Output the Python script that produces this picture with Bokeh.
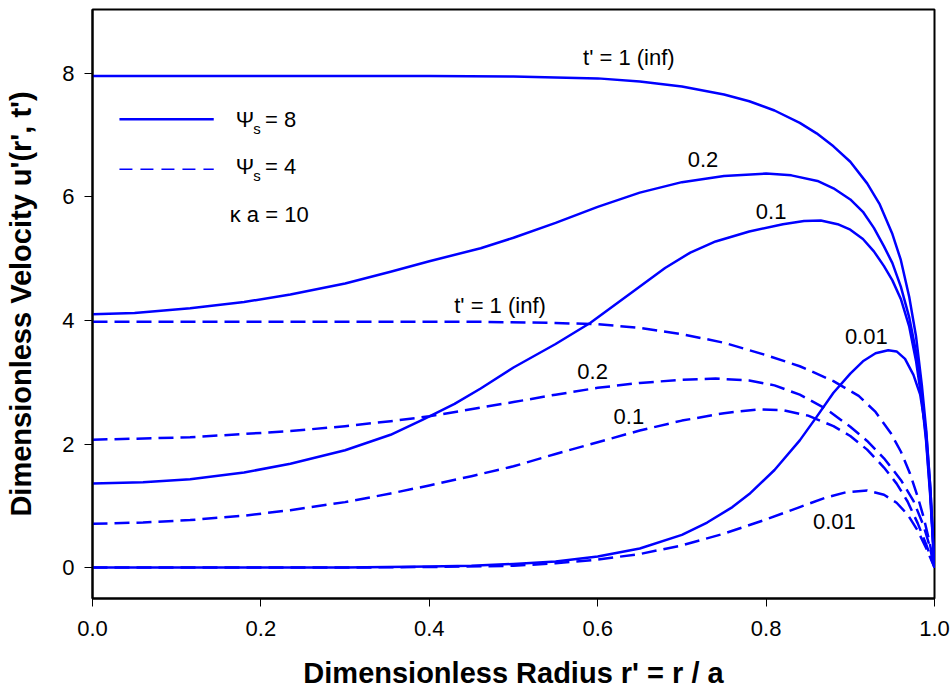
from bokeh.plotting import figure
from bokeh.models import Range1d, FixedTicker
from bokeh.core.properties import value
from bokeh.embed import file_html
from bokeh.resources import INLINE

# Velocity profiles u'(r', t') for kappa*a = 10
# Psi_s = 8 (solid)
s8_inf_x = [0, 0.1, 0.2, 0.3, 0.4, 0.5, 0.6, 0.65, 0.7, 0.75, 0.78, 0.81, 0.84, 0.86, 0.88, 0.9,
            0.92, 0.935, 0.95, 0.96, 0.97, 0.978, 0.985, 0.99, 0.995, 1.0]
s8_inf_y = [7.96, 7.96, 7.96, 7.96, 7.96, 7.95, 7.92, 7.87, 7.79, 7.66, 7.55, 7.40, 7.20, 7.03, 6.82, 6.57,
            6.22, 5.88, 5.40, 4.98, 4.38, 3.75, 2.95, 2.25, 1.3, 0.0]

s8_02_x = [0, 0.05, 0.116, 0.18, 0.235, 0.3, 0.354, 0.4, 0.461, 0.5, 0.55, 0.6, 0.65, 0.7, 0.75, 0.8,
           0.83, 0.861, 0.88, 0.9, 0.915, 0.928, 0.94, 0.95, 0.96, 0.97, 0.978, 0.985, 0.99, 0.995, 1.0]
s8_02_y = [4.10, 4.12, 4.20, 4.30, 4.42, 4.60, 4.79, 4.96, 5.17, 5.34, 5.58, 5.84, 6.07, 6.24, 6.34, 6.38,
           6.35, 6.26, 6.14, 5.96, 5.76, 5.50, 5.20, 4.93, 4.55, 4.05, 3.5, 2.75, 2.1, 1.2, 0.0]

s8_01_x = [0, 0.06, 0.116, 0.18, 0.235, 0.3, 0.354, 0.393, 0.43, 0.461, 0.5, 0.55, 0.591, 0.64, 0.68,
           0.71, 0.74, 0.78, 0.82, 0.845, 0.865, 0.885, 0.9, 0.915, 0.928, 0.94, 0.95, 0.96, 0.97,
           0.978, 0.985, 0.99, 0.995, 1.0]
s8_01_y = [1.36, 1.38, 1.43, 1.54, 1.68, 1.90, 2.15, 2.40, 2.65, 2.90, 3.24, 3.62, 3.96, 4.45, 4.85,
           5.10, 5.28, 5.44, 5.56, 5.61, 5.62, 5.56, 5.47, 5.32, 5.12, 4.88, 4.65, 4.35, 3.9,
           3.35, 2.7, 2.05, 1.15, 0.0]

s8_001_x = [0, 0.3, 0.4, 0.45, 0.5, 0.55, 0.6, 0.65, 0.7, 0.73, 0.76, 0.78, 0.81, 0.84, 0.86, 0.88, 0.9,
            0.915, 0.93, 0.945, 0.955, 0.965, 0.975, 0.983, 0.99, 0.995, 1.0]
s8_001_y = [0.0, 0.0, 0.02, 0.03, 0.06, 0.10, 0.18, 0.31, 0.53, 0.73, 0.98, 1.19, 1.58, 2.06, 2.44, 2.83, 3.14,
            3.34, 3.47, 3.52, 3.50, 3.38, 3.12, 2.8, 2.2, 1.3, 0.0]

# Psi_s = 4 (dashed)
s4_inf_x = [0, 0.3, 0.461, 0.55, 0.6, 0.65, 0.7, 0.75, 0.8, 0.84, 0.88, 0.91, 0.93, 0.948, 0.96,
            0.971, 0.98, 0.987, 0.994, 1.0]
s4_inf_y = [3.98, 3.98, 3.98, 3.96, 3.94, 3.88, 3.78, 3.64, 3.44, 3.26, 3.02, 2.78, 2.52, 2.18, 1.88,
            1.52, 1.15, 0.82, 0.42, 0.0]

s4_02_x = [0, 0.116, 0.235, 0.3, 0.354, 0.4, 0.461, 0.5, 0.55, 0.6, 0.65, 0.7, 0.74, 0.78, 0.81, 0.84,
           0.87, 0.9, 0.92, 0.94, 0.96, 0.975, 0.987, 0.994, 1.0]
s4_02_y = [2.07, 2.11, 2.21, 2.29, 2.37, 2.45, 2.59, 2.68, 2.80, 2.91, 2.99, 3.04, 3.06, 3.03, 2.95, 2.80,
           2.58, 2.28, 2.05, 1.77, 1.42, 1.08, 0.68, 0.36, 0.0]

s4_01_x = [0, 0.06, 0.116, 0.18, 0.235, 0.3, 0.354, 0.4, 0.45, 0.5, 0.55, 0.6, 0.65, 0.7, 0.75, 0.79,
           0.82, 0.85, 0.88, 0.9, 0.92, 0.94, 0.955, 0.968, 0.98, 0.99, 1.0]
s4_01_y = [0.71, 0.73, 0.77, 0.84, 0.93, 1.06, 1.20, 1.33, 1.48, 1.64, 1.84, 2.03, 2.22, 2.38, 2.50, 2.56,
           2.55, 2.46, 2.29, 2.13, 1.91, 1.62, 1.36, 1.07, 0.72, 0.38, 0.0]

s4_001_x = [0, 0.3, 0.4, 0.5, 0.55, 0.6, 0.65, 0.7, 0.75, 0.8, 0.84, 0.87, 0.895, 0.92, 0.94, 0.955,
            0.968, 0.98, 0.99, 1.0]
s4_001_y = [0.0, 0.0, 0.01, 0.03, 0.07, 0.13, 0.22, 0.36, 0.55, 0.78, 0.98, 1.13, 1.22, 1.25, 1.18, 1.05,
            0.86, 0.6, 0.32, 0.0]

x_ticks = [0.0, 0.2, 0.4, 0.6, 0.8, 1.0]
x_tick_labels = ["0.0", "0.2", "0.4", "0.6", "0.8", "1.0"]
y_ticks = [0, 2, 4, 6, 8]
y_tick_labels = ["0", "2", "4", "6", "8"]

FONT = "Liberation Sans"
BLUE = "#0000FF"

p = figure(width=952, height=698, output_backend="svg", toolbar_location=None,
           x_range=Range1d(0, 1.0), y_range=Range1d(-0.5, 9.035),
           min_border_left=92, min_border_right=18, min_border_top=9, min_border_bottom=100)
p.background_fill_color = "white"
p.border_fill_color = "white"
p.grid.visible = False
p.outline_line_color = "black"
p.outline_line_width = 2

for ax in (p.xaxis[0], p.yaxis[0]):
    ax.axis_line_width = 2
    ax.axis_line_color = "black"
    ax.major_tick_out = 8
    ax.major_tick_in = 0
    ax.major_tick_line_color = "black"
    ax.major_tick_line_width = 1
    ax.minor_tick_line_color = None
    ax.major_label_text_font = FONT
    ax.major_label_text_font_size = "22px"
    ax.major_label_text_color = "black"
    ax.axis_label_text_font = FONT
    ax.axis_label_text_font_size = "29px"
    ax.axis_label_text_font_style = "bold"
    ax.axis_label_text_color = "black"

p.xaxis.ticker = FixedTicker(ticks=x_ticks)
p.xaxis.major_label_overrides = dict(zip(x_ticks, x_tick_labels))
p.yaxis.ticker = FixedTicker(ticks=y_ticks)
p.yaxis.major_label_overrides = dict(zip(y_ticks, y_tick_labels))
p.xaxis.axis_label = "Dimensionless Radius r' = r / a"
p.yaxis.axis_label = "Dimensionless Velocity u'(r', t')"
p.xaxis.major_label_standoff = 14
p.xaxis.axis_label_standoff = 18
p.yaxis.major_label_standoff = 10
p.yaxis.axis_label_standoff = 22

# curves
for xs, ys in [(s8_inf_x, s8_inf_y), (s8_02_x, s8_02_y), (s8_01_x, s8_01_y), (s8_001_x, s8_001_y)]:
    p.line(xs, ys, line_color=BLUE, line_width=2.5, line_join="round")
for xs, ys in [(s4_inf_x, s4_inf_y), (s4_02_x, s4_02_y), (s4_01_x, s4_01_y), (s4_001_x, s4_001_y)]:
    p.line(xs, ys, line_color=BLUE, line_width=2.5, line_dash="15 7", line_join="round")

# curve annotations
p.text(x=[0.637, 0.725, 0.806, 0.484, 0.919, 0.594, 0.637, 0.881],
       y=[8.26, 6.60, 5.76, 4.24, 3.74, 3.17, 2.44, 0.75],
       text=["t' = 1 (inf)", "0.2", "0.1", "t' = 1 (inf)", "0.01", "0.2", "0.1", "0.01"],
       text_font=value(FONT), text_font_size="22px", text_color="black",
       text_align="center", text_baseline="middle")

# key
p.line([0.032, 0.144], [7.26, 7.26], line_color=BLUE, line_width=2.5)
p.line([0.032, 0.144], [6.45, 6.45], line_color=BLUE, line_width=1.5, line_dash="13 8")
p.text(x=[0.170, 0.170], y=[7.26, 6.49], text=["\u03a8", "\u03a8"],
       text_font=value(FONT), text_font_size="22px", text_color="black",
       text_align="left", text_baseline="middle")
p.text(x=[0.191, 0.191], y=[7.11, 6.34], text=["s", "s"],
       text_font=value(FONT), text_font_size="15px", text_color="black",
       text_align="left", text_baseline="middle")
p.text(x=[0.205, 0.205], y=[7.26, 6.49], text=["= 8", "= 4"],
       text_font=value(FONT), text_font_size="22px", text_color="black",
       text_align="left", text_baseline="middle")
p.text(x=[0.163], y=[5.71], text=["\u03ba a = 10"],
       text_font=value(FONT), text_font_size="22px", text_color="black",
       text_align="left", text_baseline="middle")

open("out.html", "w").write(file_html(p, INLINE))
